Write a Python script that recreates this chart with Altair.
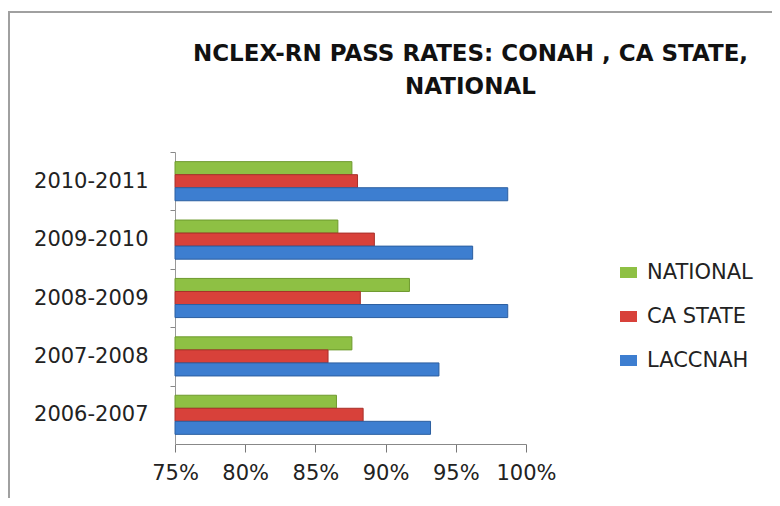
import altair as alt
import pandas as pd

years = ["2006-2007", "2007-2008", "2008-2009", "2009-2010", "2010-2011"]
national = [0.865, 0.876, 0.917, 0.866, 0.876]
ca_state = [0.884, 0.859, 0.882, 0.892, 0.880]
laccnah = [0.932, 0.938, 0.987, 0.962, 0.987]
series = ["NATIONAL", "CA STATE", "LACCNAH"]
colors = ["#8EC044", "#D8413A", "#3D7ED0"]
x_ticks = [0.75, 0.80, 0.85, 0.90, 0.95, 1.00]

rows = []
for i, y in enumerate(years):
    for s, vals in zip(series, [national, ca_state, laccnah]):
        rows.append({"year": y, "series": s, "value": vals[i]})
df = pd.DataFrame(rows)

FONT = "DejaVu Sans"
y_order = list(reversed(years))

border = alt.Chart(pd.DataFrame({"a": [0]})).mark_rect(
    fill="transparent", stroke="#a0a0a0", strokeWidth=2
).encode(
    x=alt.value(-166), x2=alt.value(640), y=alt.value(-140), y2=alt.value(400)
)

bars = alt.Chart(df).mark_bar(strokeWidth=1).encode(
    x=alt.X(
        "value:Q",
        scale=alt.Scale(domain=[0.75, 1.0], zero=False, nice=False),
        axis=alt.Axis(
            values=x_ticks, format=".0%", title=None, grid=False,
            tickSize=8, tickColor="#777", domainColor="#888",
            labelFont=FONT, labelFontSize=21, labelColor="#222",
            labelPadding=10, labelOverlap=False, labelFlush=False,
        ),
    ),
    x2=alt.datum(0.75),
    y=alt.Y(
        "year:N", sort=y_order,
        scale=alt.Scale(paddingInner=0.33, paddingOuter=0.165),
        axis=alt.Axis(
            title=None, bandPosition=0, tickOffset=-9.6, tickSize=5,
            tickColor="#888", domainColor="#999", labelFont=FONT,
            labelFontSize=21, labelColor="#222", labelPadding=22,
            labelOffset=9.6,
        ),
    ),
    yOffset=alt.YOffset("series:N", sort=series),
    color=alt.Color(
        "series:N", sort=series,
        scale=alt.Scale(domain=series, range=colors),
        legend=alt.Legend(
            title=None, orient="none", legendX=443, legendY=110,
            labelFont=FONT, labelFontSize=21, labelColor="#222",
            symbolType="M-1,-0.65L1,-0.65L1,0.65L-1,0.65Z", symbolSize=289,
            symbolStrokeWidth=0, rowPadding=22, labelOffset=8, padding=0,
        ),
    ),
    stroke=alt.Stroke("series:N", sort=series,
                      scale=alt.Scale(domain=series, range=["#6E9A2E", "#A8302A", "#2C5FA0"]),
                      legend=None),
)

chart = alt.layer(border, bars).properties(
    width=351, height=292, background="white",
    title=alt.Title(
        ["NCLEX-RN PASS RATES: CONAH , CA STATE,", "NATIONAL"],
        font=FONT, fontSize=23, fontWeight="bold", color="#111",
        anchor="middle", frame="group", dx=120, offset=-88, lineHeight=33,
    ),
    autosize=alt.AutoSizeParams(type="none"),
    padding={"left": 167, "top": 144, "right": 246, "bottom": 54},
).configure_view(stroke=None)

chart.save("out.html", embed_options={"renderer": "svg", "actions": False})
